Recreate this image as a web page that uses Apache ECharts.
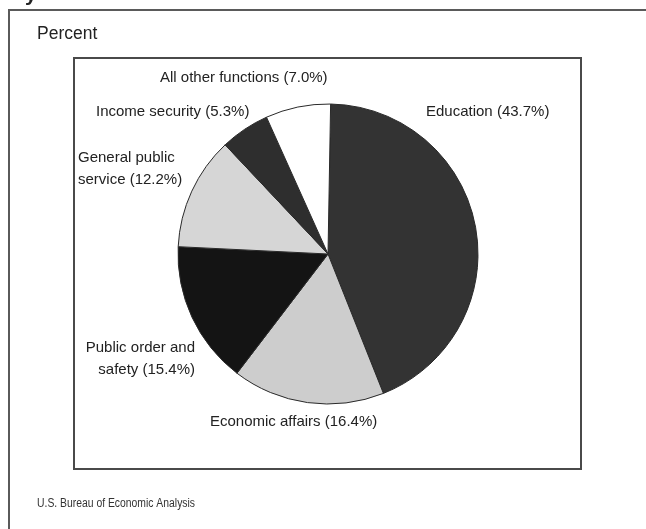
<!DOCTYPE html>
<html>
<head>
<meta charset="utf-8">
<script src="https://cdn.jsdelivr.net/npm/echarts@6/dist/echarts.min.js"></script>
<style>
  html, body { margin: 0; padding: 0; background: #ffffff; }
  #chart { width: 646px; height: 529px; }
</style>
</head>
<body>
<div id="chart"></div>
<script>
// Shares of spending by function, clockwise from 12 o'clock
const categories = [
  'Education',
  'Economic affairs',
  'Public order and\nsafety',
  'General public\nservice',
  'Income security',
  'All other functions'
];
const shares = [43.7, 16.4, 15.4, 12.2, 5.3, 7.0];
const sliceColors = ['#333333', '#cdcdcd', '#141414', '#d6d6d6', '#2e2e2e', '#ffffff'];

// Label anchor points and alignment for each slice label
const labelSpots = [
  { x: 426, y: 112, align: 'left' },
  { x: 210, y: 422, align: 'left' },
  { x: 195, y: 359, align: 'right' },
  { x: 78,  y: 169, align: 'left' },
  { x: 96,  y: 112, align: 'left' },
  { x: 160, y: 78,  align: 'left' }
];

const font = '"Liberation Sans", Arial, Helvetica, sans-serif';

const chart = echarts.init(document.getElementById('chart'), null, { renderer: 'canvas' });

chart.setOption({
  backgroundColor: '#ffffff',
  animation: false,
  graphic: [
    { type: 'rect', shape: { x: 9, y: 10, width: 700, height: 600 },
      style: { fill: 'none', stroke: '#5a5a5a', lineWidth: 2 } },
    { type: 'rect', shape: { x: 74, y: 58, width: 507, height: 411 },
      style: { fill: 'none', stroke: '#4a4a4a', lineWidth: 2 } },
    { type: 'text', left: 37, top: 25,
      style: { text: 'Percent', font: '17.5px ' + font, fill: '#222222' } },
    // Source line, set in a condensed face
    { type: 'text', x: 37, y: 497, scaleX: 0.83, originX: 0, originY: 0,
      style: { text: 'U.S. Bureau of Economic Analysis', font: '12.5px ' + font, fill: '#333333' } },
    { type: 'text', left: 25, top: -15,
      style: { text: 'y', font: 'bold 21px ' + font, fill: '#222222' } }
  ],
  series: [{
    type: 'pie',
    center: [328, 254],
    radius: 150,
    startAngle: 89,
    clockwise: true,
    silent: true,
    itemStyle: { borderColor: '#2a2a2a', borderWidth: 1 },
    data: categories.map((name, i) => ({
      name: name,
      value: shares[i],
      itemStyle: { color: sliceColors[i] }
    })),
    label: {
      show: true,
      position: 'outside',
      overflow: 'none',
      formatter: (p) => p.name + ' (' + shares[p.dataIndex].toFixed(1) + '%)',
      fontFamily: font,
      fontSize: 15,
      lineHeight: 22,
      color: '#222222'
    },
    labelLine: { show: false },
    labelLayout: (params) => {
      const s = labelSpots[params.dataIndex];
      return { x: s.x, y: s.y, align: s.align, verticalAlign: 'middle' };
    }
  }]
});
</script>
</body>
</html>
